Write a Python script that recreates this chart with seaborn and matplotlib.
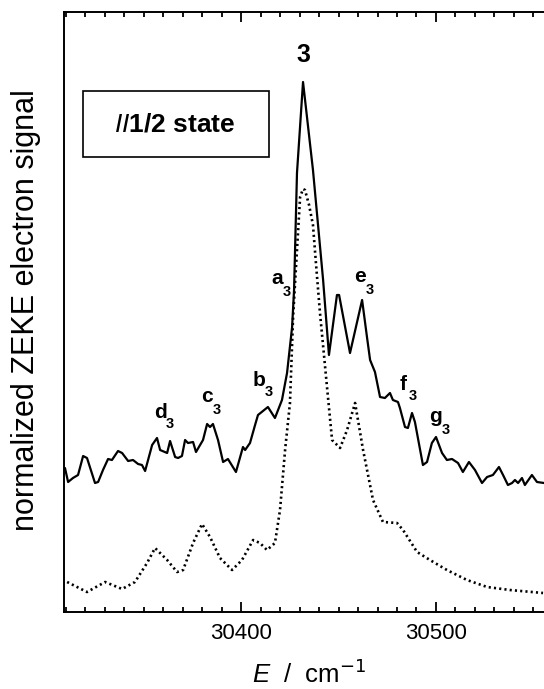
import numpy as np
import pandas as pd
import matplotlib
matplotlib.use('Agg')
import matplotlib.pyplot as plt
import seaborn as sns
from matplotlib.ticker import MultipleLocator
from matplotlib.patches import Rectangle

# ZEKE spectrum, solid trace (E in cm-1, signal in arbitrary units)
solid_E = [30309.7, 30311.3, 30313.8, 30316.4, 30319.0, 30321.0, 30325.1, 30326.7,
           30329.2, 30331.8, 30333.8, 30336.9, 30339.0, 30342.1, 30344.6, 30347.2,
           30349.2, 30350.8, 30354.4, 30356.9, 30358.5, 30362.1, 30363.6, 30366.2,
           30367.7, 30369.7, 30371.3, 30372.8, 30375.4, 30376.9, 30379.0, 30380.5,
           30382.6, 30384.1, 30385.6, 30388.2, 30390.8, 30393.3, 30397.4, 30401.0,
           30402.1, 30404.6, 30407.2, 30408.7, 30413.8, 30417.4, 30421.0, 30423.6,
           30426.2, 30427.2, 30428.7, 30431.8, 30436.9, 30439.5, 30442.1, 30445.1,
           30449.2, 30450.3, 30455.9, 30462.1, 30464.6, 30466.2, 30468.7, 30471.3,
           30473.8, 30476.4, 30477.9, 30480.5, 30481.5, 30484.1, 30485.6, 30487.7,
           30489.2, 30493.3, 30495.4, 30497.9, 30500.0, 30503.1, 30505.6, 30508.2,
           30511.3, 30513.8, 30516.9, 30520.0, 30523.6, 30526.2, 30529.2, 30532.3,
           30534.4, 30536.9, 30539.0, 30540.5, 30542.1, 30544.1, 30545.6, 30549.2,
           30551.8, 30555.4]
solid_S = [144, 130, 134, 137, 156, 154, 129, 130,
           142, 153, 152, 161, 159, 151, 152, 148,
           147, 141, 167, 174, 162, 159, 171, 155,
           154, 156, 172, 169, 170, 160, 167, 172,
           188, 185, 188, 172, 150, 153, 140, 165,
           162, 169, 187, 197, 205, 194, 212, 239,
           285, 322, 439, 530, 442, 387, 332, 257,
           317, 317, 259, 312, 275, 252, 240, 215,
           214, 219, 212, 210, 204, 185, 184, 199,
           190, 147, 150, 169, 175, 159, 152, 153,
           149, 140, 150, 142, 129, 135, 137, 145,
           137, 127, 129, 132, 129, 134, 127, 137,
           130, 129]

# second trace (dotted)
dot_E = [30310.8, 30321.0, 30330.3, 30339.0, 30345.6, 30351.8, 30355.9, 30362.1,
         30367.2, 30370.3, 30375.4, 30380.0, 30384.1, 30389.2, 30395.4, 30400.5,
         30406.2, 30409.7, 30413.3, 30417.4, 30420.0, 30422.6, 30425.1, 30426.7,
         30428.7, 30430.3, 30431.8, 30432.8, 30434.9, 30436.9, 30438.5, 30440.5,
         30444.1, 30446.7, 30450.8, 30454.4, 30458.5, 30462.6, 30467.7, 30472.8,
         30480.0, 30483.1, 30490.3, 30496.9, 30505.6, 30515.9, 30526.2, 30537.9,
         30554.9]
dot_S = [30, 20, 30, 23, 30, 49, 64, 52,
         40, 42, 69, 88, 75, 54, 42, 52,
         72, 69, 62, 69, 102, 162, 209, 295,
         362, 415, 423, 422, 407, 387, 347, 299,
         225, 172, 164, 182, 209, 162, 112, 90,
         89, 82, 60, 52, 42, 32, 25, 22,
         19]

# peak labels: letter, E position, signal position
peak_letters = ['a', 'b', 'c', 'd', 'e', 'f', 'g']
peak_E = [30418.5, 30409.2, 30382.6, 30358.5, 30461.0, 30483.1, 30500.0]
peak_S = [333, 232, 215, 200, 335, 228, 195]

sns.set_theme(style='ticks')
plt.rcParams['font.family'] = ['Liberation Sans', 'DejaVu Sans']
plt.rcParams['mathtext.fontset'] = 'custom'
plt.rcParams['mathtext.rm'] = 'Liberation Sans'
plt.rcParams['mathtext.it'] = 'Liberation Sans:italic'
plt.rcParams['mathtext.bf'] = 'Liberation Sans:bold'
plt.rcParams['text.color'] = 'black'
plt.rcParams['xtick.color'] = 'black'
plt.rcParams['xtick.labelcolor'] = 'black'
plt.rcParams['axes.edgecolor'] = 'black'

fig = plt.figure(figsize=(5.44, 6.89), dpi=100)
W, H = 544, 689
ax = fig.add_axes([64 / W, 1 - 612 / H, (544 - 64) / W, (612 - 12) / H])

solid = pd.DataFrame({'E': solid_E, 'S': solid_S})
dotted = pd.DataFrame({'E': dot_E, 'S': dot_S})
sns.lineplot(data=solid, x='E', y='S', ax=ax, color='black', lw=1.6,
             sort=False, estimator=None)
sns.lineplot(data=dotted, x='E', y='S', ax=ax, color='black', lw=1.9,
             sort=False, estimator=None, linestyle=(0, (0.8, 1.2)))

ax.set_xlim(30309.2, 30555.4)
ax.set_ylim(0, 600)
ax.set_xlabel('')
ax.set_ylabel('')
ax.set_yticks([])
ax.xaxis.set_major_locator(MultipleLocator(100))
ax.xaxis.set_minor_locator(MultipleLocator(10))
ax.tick_params(axis='x', which='both', direction='in', top=True, bottom=True,
               width=1.3, color='black')
ax.tick_params(axis='x', which='major', length=7, labelsize=16, pad=8)
ax.tick_params(axis='x', which='minor', length=3.5)
for side in ['left', 'top', 'bottom']:
    ax.spines[side].set_linewidth(1.4)
ax.spines['right'].set_visible(False)

# peak annotations
ax.text(30431.8, 557, '3', fontsize=18, fontweight='bold', ha='center', va='center')
for letter, e, s in zip(peak_letters, peak_E, peak_S):
    ax.text(e, s, letter, fontsize=15, fontweight='bold', ha='center', va='center')
    ax.annotate('3', (e, s), xytext=(7, -9), textcoords='offset points',
                fontsize=10.5, fontweight='bold', ha='center', va='center')

# state box
fig.patches.append(Rectangle((83 / W, 1 - 157 / H), (269 - 83) / W, (157 - 91) / H,
                             transform=fig.transFigure, fill=False,
                             edgecolor='black', lw=1.2))
fig.text(175 / W, 1 - 124 / H, r'$\mathbf{\mathit{II}}$1/2 state', fontsize=19,
         fontweight='bold', ha='center', va='center')

fig.text(26 / W, 1 - 310 / H, 'normalized ZEKE electron signal', fontsize=22,
         rotation=90, ha='center', va='center')
fig.text(309 / W, 1 - 674 / H, r'$\mathit{E}$  /  cm$^{\mathsf{-1}}$', fontsize=18.5,
         ha='center', va='center')

fig.savefig('out.png', dpi=100, facecolor='white')
